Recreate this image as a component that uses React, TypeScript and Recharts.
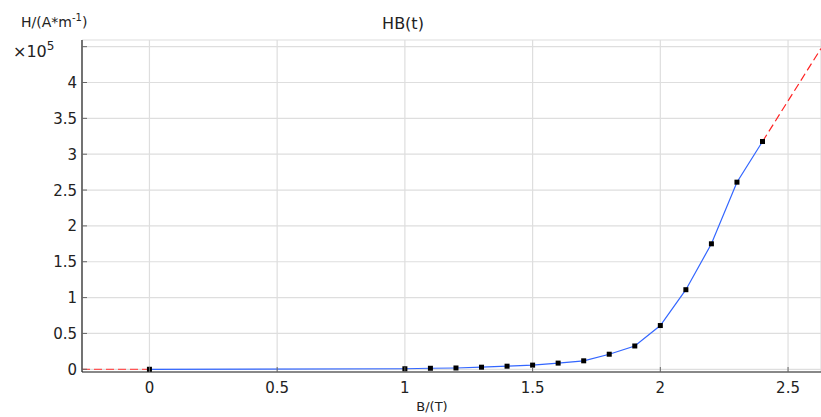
import React from "react";
import { ComposedChart, Line, XAxis, YAxis, CartesianGrid } from "recharts";

const B_VALUES = [0, 1.0, 1.1, 1.2, 1.3, 1.4, 1.5, 1.6, 1.7, 1.8, 1.9, 2.0, 2.1, 2.2, 2.3, 2.4];
const H_VALUES = [0, 700, 1400, 1800, 2900, 4300, 5800, 8600, 11800, 21000, 32500, 61000, 111000, 175000, 261000, 317700];
const EXTRAP_LEFT_B = [-0.264, 0];
const EXTRAP_LEFT_H = [-200, 0];
const EXTRAP_RIGHT_B = [2.4, 2.629];
const EXTRAP_RIGHT_H = [317700, 447500];
const X_TICKS = [0, 0.5, 1, 1.5, 2, 2.5];
const Y_TICKS = [0, 50000, 100000, 150000, 200000, 250000, 300000, 350000, 400000, 450000];
const X_DOMAIN = [-0.264, 2.629];
const Y_DOMAIN = [-3800, 459300];

const curve = B_VALUES.map((b, i) => ({ b, h: H_VALUES[i] }));
const leftExt = EXTRAP_LEFT_B.map((b, i) => ({ b, h: EXTRAP_LEFT_H[i] }));
const rightExt = EXTRAP_RIGHT_B.map((b, i) => ({ b, h: EXTRAP_RIGHT_H[i] }));

const FONT = "DejaVu Sans";
const TICK_COLOR = "#666";

const BottomTick = (props: any) => {
  const { x, y, payload } = props;
  return (
    <g>
      <line x1={x} y1={y} x2={x} y2={y - 5} stroke={TICK_COLOR} strokeWidth={1} />
      <text x={x} y={y + 21} textAnchor="middle" fontFamily={FONT} fontSize={15} fill="#222">
        {String(payload.value)}
      </text>
    </g>
  );
};

const TopTick = (props: any) => {
  const { x, y } = props;
  return <line x1={x} y1={y} x2={x} y2={y + 5} stroke={TICK_COLOR} strokeWidth={1} />;
};

const LeftTick = (props: any) => {
  const { x, y, payload } = props;
  const v = payload.value / 100000;
  const label = v >= 4.5 ? "" : String(v);
  return (
    <g>
      <line x1={x} y1={y} x2={x + 5} y2={y} stroke={TICK_COLOR} strokeWidth={1} />
      <text x={x - 5} y={y + 5.5} textAnchor="end" fontFamily={FONT} fontSize={15} fill="#222">
        {label}
      </text>
    </g>
  );
};

const SquareDot = (props: any) => {
  const { cx, cy, index } = props;
  if (cx == null || cy == null) return <g key={`d${index}`} />;
  return <rect key={`d${index}`} x={cx - 2.5} y={cy - 2.5} width={5} height={5} fill="#000" />;
};

export default function App() {
  return (
    <div style={{ position: "absolute", left: 0, top: 0, width: 821, height: 417, background: "#fff" }}>
      <ComposedChart
        width={821}
        height={417}
        margin={{ top: 40, right: 0, left: 0, bottom: 0 }}
      >
        <CartesianGrid stroke="#dedede" strokeWidth={1.2} />
        <XAxis
          dataKey="b"
          type="number"
          domain={X_DOMAIN}
          ticks={X_TICKS}
          allowDataOverflow
          height={45}
          tickSize={0}
          tickMargin={0}
          tick={<BottomTick />}
          axisLine={{ stroke: "#222", strokeWidth: 1.2 }}
          tickLine={false}
        />
        <XAxis
          xAxisId="top"
          orientation="top"
          dataKey="b"
          type="number"
          domain={X_DOMAIN}
          ticks={X_TICKS}
          allowDataOverflow
          height={0}
          tickSize={0}
          tickMargin={0}
          tick={<TopTick />}
          axisLine={{ stroke: "#222", strokeWidth: 1.2 }}
          tickLine={false}
        />
        <YAxis
          type="number"
          domain={Y_DOMAIN}
          ticks={Y_TICKS}
          allowDataOverflow
          width={82}
          tickSize={0}
          tickMargin={0}
          tick={<LeftTick />}
          axisLine={{ stroke: "#222", strokeWidth: 1.2 }}
          tickLine={false}
        />
        <Line
          data={leftExt}
          dataKey="h"
          type="linear"
          stroke="#ff5555"
          strokeWidth={1.2}
          strokeDasharray="8 4"
          dot={false}
          isAnimationActive={false}
        />
        <Line
          data={rightExt}
          dataKey="h"
          type="linear"
          stroke="#ff2222"
          strokeWidth={1.2}
          strokeDasharray="8 4"
          dot={false}
          isAnimationActive={false}
        />
        <Line
          data={curve}
          dataKey="h"
          type="linear"
          stroke="#3366ff"
          strokeWidth={1.2}
          dot={<SquareDot />}
          isAnimationActive={false}
        />
      </ComposedChart>
      <svg
        width={821}
        height={417}
        style={{ position: "absolute", left: 0, top: 0, pointerEvents: "none" }}
      >
        <text x={403} y={29} textAnchor="middle" fontFamily={FONT} fontSize={16} fill="#222">
          HB(t)
        </text>
        <text x={21} y={27} fontFamily={FONT} fontSize={14} fill="#222">
          H/(A*m<tspan dy={-6} fontSize={10}>-1</tspan><tspan dy={6}>)</tspan>
        </text>
        <text x={13} y={57} fontFamily={FONT} fontSize={16} fill="#222">
          ×10<tspan dy={-7} fontSize={12}>5</tspan>
        </text>
        <text x={432} y={411} textAnchor="middle" fontFamily={FONT} fontSize={13} fill="#222">
          B/(T)
        </text>
      </svg>
    </div>
  );
}
